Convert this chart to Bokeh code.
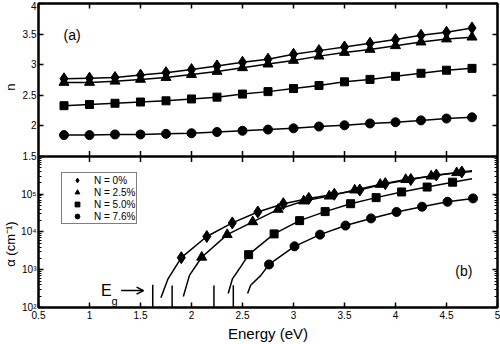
import math
from bokeh.plotting import figure
from bokeh.models import (Range1d, LinearAxis, LogAxis, FixedTicker, NumeralTickFormatter,
                          CustomJSTickFormatter, Legend, LegendItem, Label, Arrow, OpenHead,
                          Span, LinearScale)
from bokeh.embed import file_html
from bokeh.resources import INLINE

# ---------------- data: panel (a) refractive index ----------------
energy_a = [0.75, 1.0, 1.25, 1.5, 1.75, 2.0, 2.25, 2.5, 2.75, 3.0, 3.25, 3.5, 3.75, 4.0, 4.25, 4.5, 4.75]
n_0 = [2.77, 2.78, 2.79, 2.83, 2.87, 2.92, 2.98, 3.04, 3.09, 3.17, 3.23, 3.29, 3.35, 3.41, 3.48, 3.53, 3.60]
n_25 = [2.71, 2.71, 2.73, 2.76, 2.79, 2.84, 2.89, 2.95, 3.01, 3.07, 3.14, 3.20, 3.25, 3.31, 3.37, 3.42, 3.45]
n_50 = [2.33, 2.35, 2.37, 2.39, 2.41, 2.44, 2.47, 2.52, 2.56, 2.61, 2.66, 2.72, 2.76, 2.81, 2.86, 2.91, 2.94]
n_76 = [1.85, 1.85, 1.86, 1.86, 1.87, 1.88, 1.90, 1.92, 1.94, 1.96, 1.99, 2.01, 2.04, 2.06, 2.09, 2.12, 2.14]

# ---------------- data: panel (b) absorption coefficient ----------------
e_0 = [1.90, 2.15, 2.40, 2.65, 2.90, 3.15, 3.40, 3.65, 3.90, 4.15, 4.40, 4.65]
a_0 = [2090, 7590, 17400, 33900, 56200, 77600, 1.0e5, 1.29e5, 1.91e5, 2.45e5, 3.24e5, 3.89e5]
e_25 = [2.10, 2.35, 2.60, 2.85, 3.10, 3.35, 3.60, 3.85, 4.10, 4.35, 4.60]
a_25 = [2140, 8510, 18600, 39800, 66100, 89100, 1.29e5, 1.82e5, 2.45e5, 3.02e5, 3.72e5]
e_50 = [2.56, 2.81, 3.06, 3.31, 3.56, 3.81, 4.06, 4.31, 4.56]
a_50 = [2510, 8910, 20000, 34700, 56200, 81300, 1.15e5, 1.55e5, 2.09e5]
e_76 = [2.76, 3.01, 3.26, 3.51, 3.76, 4.01, 4.26, 4.51, 4.76]
a_76 = [1380, 4170, 8510, 14800, 22900, 33900, 46800, 63100, 77600]
# extra curve points: onset below the first marker, tail after the last marker
onset_e_0, onset_a_0, tail_e_0, tail_a_0 = [1.70, 1.77], [182, 575], [4.75], [4.17e5]
onset_e_25, onset_a_25, tail_e_25, tail_a_25 = [1.92, 1.98], [195, 708], [4.75], [3.98e5]
onset_e_50, onset_a_50, tail_e_50, tail_a_50 = [2.36, 2.40, 2.49], [234, 562, 1290], [4.75], [2.57e5]
onset_e_76, onset_a_76, tail_e_76, tail_a_76 = [2.55, 2.58, 2.68], [234, 389, 708], [], []

# band gaps
eg = [1.62, 1.81, 2.22, 2.41]
eg_bottom = [100, 100, 100, 100]
eg_top = [400, 380, 380, 390]

labels = ["N = 0%", "N = 2.5%", "N = 5.0%", "N = 7.6%"]
x_ticks = [0.5, 1, 1.5, 2, 2.5, 3, 3.5, 4, 4.5, 5]
x_inner_ticks = [1, 1.5, 2, 2.5, 3, 3.5, 4, 4.5]
n_ticks = [1.5, 2, 2.5, 3, 3.5, 4]
a_ticks = [1e2, 1e3, 1e4, 1e5]
a_minor = [k * 10 ** d for d in range(2, 6) for k in range(2, 10)]
panel_boundary = [1e6] * len(x_inner_ticks)
n_title, a_title = "n", "α (cm⁻¹)"

# ---------------- layout of the stacked panels (one frame, two scales) ----------------
FRAME_A, FRAME_B = 154, 152          # pixel heights of panel (a) and panel (b)
A_LO, A_HI = 2.0, 6.0                 # decades shown in panel (b)
N_LO, N_HI = 1.5, 4.0                 # n shown in panel (a)
L_TOP = A_LO + (A_HI - A_LO) * (FRAME_A + FRAME_B) / FRAME_B
N_BOT = N_LO - (N_HI - N_LO) * FRAME_B / FRAME_A


def n_to_alpha(n):
    return 10 ** (A_LO + (n - N_BOT) / (N_HI - N_BOT) * (L_TOP - A_LO))


FONT = "Liberation Sans"

p = figure(width=500, height=344, x_range=Range1d(0.5, 5), y_range=Range1d(10 ** A_LO, 10 ** L_TOP),
           y_axis_type="log", output_backend="svg", toolbar_location=None,
           min_border_left=37, min_border_right=3, min_border_top=3, min_border_bottom=35)
p.extra_y_ranges = {"n": Range1d(N_BOT, N_HI)}
p.extra_y_scales = {"n": LinearScale()}
p.grid.visible = False
p.outline_line_color = "black"
p.outline_line_width = 2.5
p.background_fill_color = "white"
p.border_fill_color = "white"


def style_axis(ax, show_labels=True, minor=False):
    ax.major_tick_in = 5
    ax.major_tick_out = 0
    ax.minor_tick_in = 3 if minor else 0
    ax.minor_tick_out = 0
    ax.major_tick_line_width = 1.5
    ax.minor_tick_line_width = 1.2
    ax.major_tick_line_color = "black"
    ax.minor_tick_line_color = "black"
    ax.axis_line_color = None
    ax.major_label_text_font = FONT
    if show_labels:
        ax.major_label_text_font_size = "10px"
        ax.major_label_text_color = "black"
        ax.major_label_standoff = 3
    else:
        ax.major_label_text_font_size = "1px"
        ax.major_label_text_color = None
        ax.major_label_standoff = 0
    ax.axis_label_text_font = FONT
    ax.axis_label_text_font_style = "normal"
    ax.axis_label_text_color = "black"


y_tick_pos = a_ticks + [n_to_alpha(n) for n in n_ticks]
y_formatter = CustomJSTickFormatter(args=dict(nb=N_BOT, lt=L_TOP, lo=A_LO, nh=N_HI), code="""
    const L = Math.log10(tick);
    if (L < 5.5) {
        const sup = {2: "\u00b2", 3: "\u00b3", 4: "\u2074", 5: "\u2075"};
        return "10" + sup[Math.round(L)];
    }
    const n = nb + (L - lo) / (lt - lo) * (nh - nb);
    return String(Math.round(n * 10) / 10);
""")

# bottom axis
p.xaxis.ticker = FixedTicker(ticks=x_ticks)
p.xaxis.formatter = NumeralTickFormatter(format="0.[0]")
p.xaxis.axis_label = "Energy (eV)"
for ax in p.xaxis:
    style_axis(ax)
    ax.axis_label_text_font_size = "15px"
    ax.axis_label_standoff = 3

# left axis (both panels)
p.yaxis.ticker = FixedTicker(ticks=y_tick_pos, minor_ticks=a_minor)
p.yaxis.formatter = y_formatter
for ax in p.yaxis:
    style_axis(ax, minor=True)
    ax.major_label_standoff = 2

# outer left axis carrying the two panel titles as rotated labels
title_pos = [10 ** 3.68, 10 ** 7.84]
titles = LogAxis(ticker=FixedTicker(ticks=title_pos),
                 formatter=CustomJSTickFormatter(args=dict(nt=n_title, at=a_title), code="""
                     return Math.log10(tick) > 6 ? nt : at;
                 """))
style_axis(titles)
titles.major_tick_in = 0
titles.major_tick_line_color = None
titles.major_label_text_font_size = "13px"
titles.major_label_orientation = "vertical"
titles.major_label_standoff = 0
p.add_layout(titles, "left")

# top and right: ticks only
top = LinearAxis(ticker=FixedTicker(ticks=x_ticks))
style_axis(top, show_labels=False)
p.add_layout(top, "above")
right = LogAxis(ticker=FixedTicker(ticks=y_tick_pos, minor_ticks=a_minor))
style_axis(right, show_labels=False, minor=True)
p.add_layout(right, "right")

# boundary between the panels, with ticks on both sides
p.add_layout(Span(location=10 ** A_HI, dimension="width", line_color="black", line_width=2.5))
p.scatter(x_inner_ticks, panel_boundary, marker="dash", angle=math.pi / 2, size=11,
          line_color="black", line_width=1.5)

# ---------------- panel (a) ----------------
for vals, marker, size in [(n_0, "diamond", 12), (n_25, "triangle", 10),
                           (n_50, "square", 8), (n_76, "circle", 9)]:
    p.line(energy_a, vals, line_color="black", line_width=1.5, y_range_name="n")
    p.scatter(energy_a, vals, marker=marker, size=size, fill_color="black", line_color="black",
              y_range_name="n")

p.add_layout(Label(x=0.83, y=3.48, y_range_name="n", text="(a)", text_font=FONT, text_font_size="14px",
                   text_align="center", text_baseline="middle", text_color="black"))

# ---------------- panel (b) ----------------
series = [
    (onset_e_0, onset_a_0, e_0, a_0, tail_e_0, tail_a_0, "diamond", 12),
    (onset_e_25, onset_a_25, e_25, a_25, tail_e_25, tail_a_25, "triangle", 10),
    (onset_e_50, onset_a_50, e_50, a_50, tail_e_50, tail_a_50, "square", 8),
    (onset_e_76, onset_a_76, e_76, a_76, tail_e_76, tail_a_76, "circle", 9),
]
items = []
for (oe, oa, me, ma, te, ta, marker, size), lab in zip(series, labels):
    p.line(oe + me + te, oa + ma + ta, line_color="black", line_width=1.5)
    r = p.scatter(me, ma, marker=marker, size=size, fill_color="black", line_color="black")
    items.append(LegendItem(label=lab, renderers=[r]))

p.segment(x0=eg, y0=eg_bottom, x1=eg, y1=eg_top, line_color="black", line_width=1.5)

legend = Legend(items=items, location=(23, 83), orientation="vertical",
                border_line_color="black", border_line_width=1.5,
                background_fill_color="white", background_fill_alpha=1,
                padding=1, spacing=0, margin=0, label_standoff=3,
                glyph_width=28, glyph_height=12, label_height=12,
                label_text_font=FONT, label_text_font_size="10px", label_text_color="black")
p.add_layout(legend)

p.add_layout(Label(x=1.165, y=280, text="E", text_font=FONT, text_font_size="16px",
                   text_align="center", text_baseline="middle", text_color="black"))
p.add_layout(Label(x=1.245, y=150, text="g", text_font=FONT, text_font_size="11px",
                   text_align="center", text_baseline="middle", text_color="black"))
p.add_layout(Arrow(x_start=1.31, y_start=280, x_end=1.53, y_end=280,
                   line_color="black", line_width=1.5,
                   end=OpenHead(size=7, line_width=1.5, line_color="black")))
p.add_layout(Label(x=4.67, y=950, text="(b)", text_font=FONT, text_font_size="14px",
                   text_align="center", text_baseline="middle", text_color="black"))

open("out.html", "w").write(file_html(p, INLINE))
